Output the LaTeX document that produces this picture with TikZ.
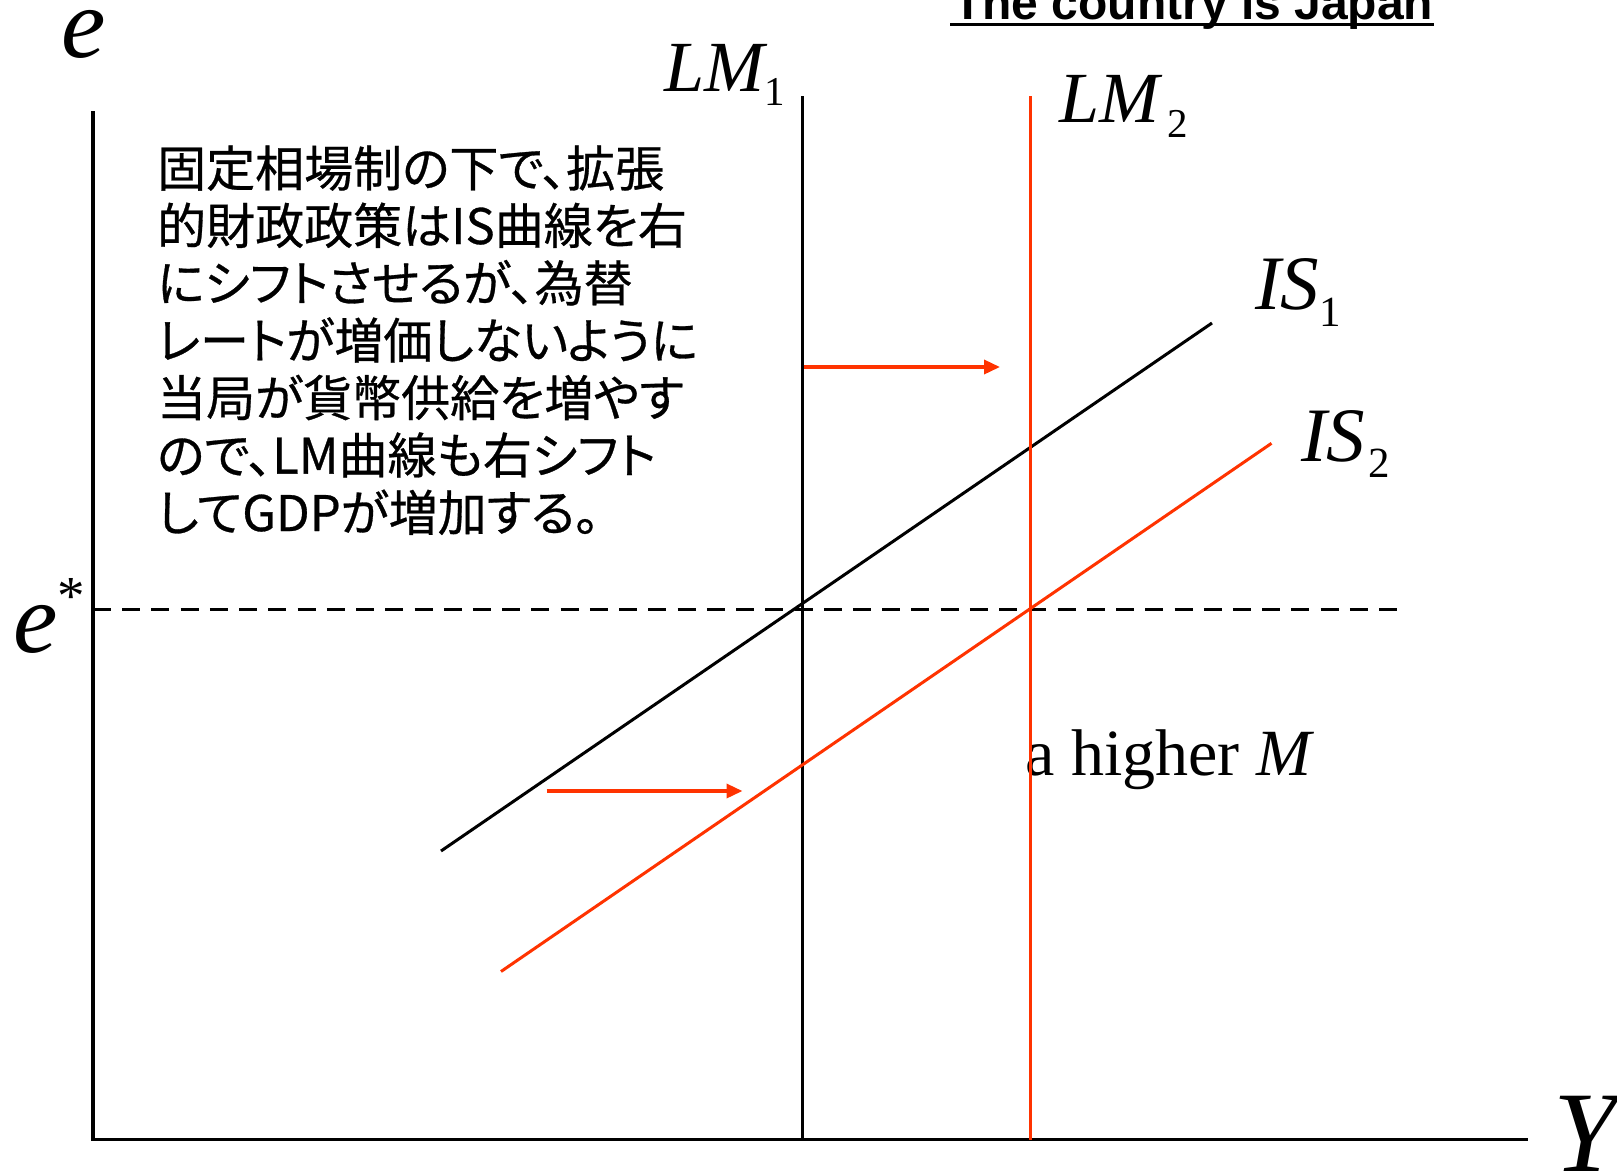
\documentclass[tikz,border=0pt]{standalone}
\usepackage{fontspec}
\setmainfont{Liberation Serif}
\newfontfamily\jpfont[RawFeature={+palt},FakeBold=0.6]{Noto Sans CJK JP}
\newfontfamily\titlefont{Liberation Sans}
\usetikzlibrary{arrows.meta}
\definecolor{shiftred}{RGB}{255,51,0}
\begin{document}
\begin{tikzpicture}[x=1pt,y=-1pt,
  axis/.style={line width=3.2pt,black},
  curve/.style={line width=3pt},
  redcurve/.style={line width=3pt,shiftred},
  shiftarrow/.style={line width=3.5pt,shiftred,-{Triangle[length=16pt,width=14pt]}},
  lbl/.style={inner sep=0pt,anchor=base west},
  jp/.style={inner sep=0pt,anchor=base west,font=\jpfont\fontsize{49}{57}\selectfont}]
\useasboundingbox (0,0) rectangle (1617,1171);
% coordinates
\coordinate (O) at (93,1139.5);
\coordinate (ytop) at (93,111);
\coordinate (xend) at (1528,1139.5);
\coordinate (lm1top) at (802,96);
\coordinate (lm1bot) at (802,1139.5);
\coordinate (lm2top) at (1030,96);
\coordinate (lm2bot) at (1030,1139.5);
\coordinate (estarL) at (93,609.5);
\coordinate (estarR) at (1397,609.5);
\coordinate (is1a) at (441,851);
\coordinate (is1b) at (1212,323);
\coordinate (is2a) at (501,971.5);
\coordinate (is2b) at (1271.5,443.3);
\coordinate (ar1s) at (803.5,367);
\coordinate (ar1e) at (1000,367);
\coordinate (ar2s) at (546.5,791);
\coordinate (ar2e) at (742.5,791);
% black lines
\draw[axis] (ytop) -- (O) -- (xend);
\draw[curve] (lm1top) -- (lm1bot);
\draw[curve] (is1a) -- (is1b);
\draw[line width=3pt,dash pattern=on 18pt off 11.23pt] (estarL) -- (estarR);
% labels
\node[lbl,font=\titlefont\bfseries\fontsize{48}{48}\selectfont] (title) at (953,19.5) {The country is Japan};
\draw[line width=3pt] ([xshift=-3pt,yshift=-4.5pt]title.base west) -- ([yshift=-4.5pt]title.base east);
\node[lbl,font=\fontsize{100}{100}\selectfont\itshape] (elab) at (61,57) {e};
\node[lbl,font=\fontsize{100}{100}\selectfont\itshape] (estarlab) at (13,652) {e\raisebox{38pt}{\upshape\fontsize{55}{55}\selectfont *}};
\node[lbl] (lm1lab) at (664,91) {\fontsize{72}{72}\selectfont\itshape LM\raisebox{-14pt}{\upshape\fontsize{41}{41}\selectfont 1}};
\node[lbl] (lm2lab) at (1059,122) {\fontsize{72}{72}\selectfont\itshape LM\hspace{8pt}\raisebox{-15pt}{\upshape\fontsize{41}{41}\selectfont 2}};
\node[lbl] (is1lab) at (1255,309) {\fontsize{77}{77}\selectfont\itshape IS\raisebox{-17pt}{\upshape\fontsize{43}{43}\selectfont 1}};
\node[lbl] (is2lab) at (1301,461) {\fontsize{77}{77}\selectfont\itshape IS\hspace{3pt}\raisebox{-16pt}{\upshape\fontsize{43}{43}\selectfont 2}};
\node[lbl,font=\fontsize{66}{66}\selectfont] (higherM) at (1025,775.5) {a higher \textit{M}};
\node[lbl,font=\fontsize{115}{115}\selectfont\itshape] (ylab) at (1553,1171) {Y};
% Japanese text
\node[jp] (jp1) at (157,186.6) {固定相場制の下で、拡張};
\node[jp] (jp2) at (157,244.0) {的財政政策はIS曲線を右};
\node[jp] (jp3) at (157,301.4) {にシフトさせるが、為替};
\node[jp] (jp4) at (157,358.8) {レートが増価しないように};
\node[jp] (jp5) at (157,416.2) {当局が貨幣供給を増やす};
\node[jp] (jp6) at (157,473.6) {ので、LM曲線も右シフト};
\node[jp] (jp7) at (157,531.0) {してGDPが増加する。};
% red lines
\draw[redcurve] (lm2top) -- (lm2bot);
\draw[redcurve] (is2a) -- (is2b);
\draw[shiftarrow] (ar1s) -- (ar1e);
\draw[shiftarrow] (ar2s) -- (ar2e);
\end{tikzpicture}
\end{document}
